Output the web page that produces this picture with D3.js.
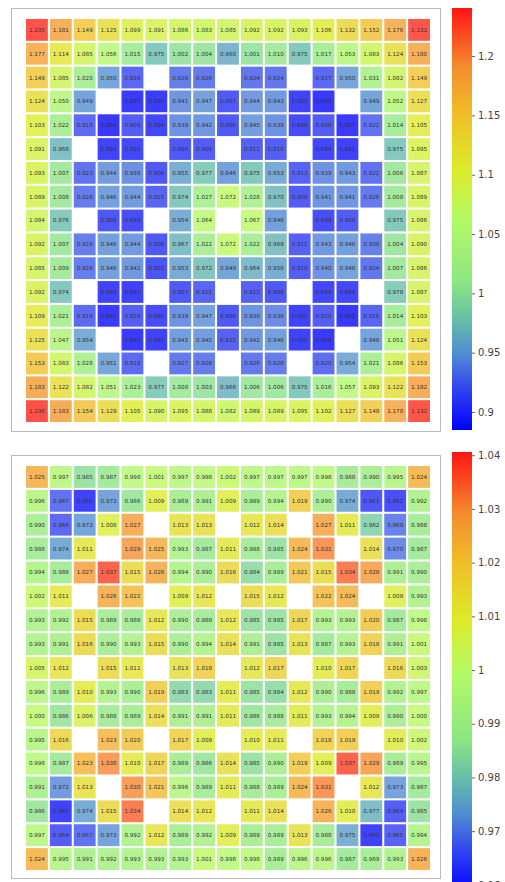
<!DOCTYPE html>
<html>
<head>
<meta charset="utf-8">
<script src="https://cdn.jsdelivr.net/npm/d3@7"></script>
<style>
  body { margin: 0; background: #fff; }
  svg { display: block; font-family: "DejaVu Sans", Verdana, sans-serif; }
</style>
</head>
<body>
<svg id="chart" width="505" height="882"></svg>
<script>
// values, row by row (null = empty cell)
const topValues = [
  [1.235,1.181,1.149,1.125,1.099,1.091,1.086,1.083,1.085,1.092,1.092,1.093,1.106,1.132,1.152,1.176,1.233],
  [1.177,1.114,1.085,1.056,1.015,0.975,1.002,1.004,0.960,1.001,1.010,0.975,1.017,1.053,1.083,1.124,1.180],
  [1.149,1.085,1.020,0.950,0.916,null,0.928,0.926,null,0.924,0.924,null,0.917,0.950,1.031,1.082,1.149],
  [1.124,1.050,0.949,null,0.887,0.888,0.941,0.947,0.907,0.944,0.943,0.893,0.883,null,0.949,1.052,1.127],
  [1.103,1.022,0.918,0.884,0.909,0.894,0.939,0.942,0.906,0.945,0.939,0.898,0.908,0.887,0.922,1.014,1.105],
  [1.091,0.968,null,0.893,0.895,null,0.906,0.909,null,0.911,0.910,null,0.894,0.891,null,0.975,1.095],
  [1.093,1.007,0.923,0.944,0.938,0.906,0.955,0.977,0.946,0.975,0.953,0.913,0.939,0.943,0.922,1.006,1.087],
  [1.089,1.008,0.928,0.946,0.944,0.915,0.974,1.027,1.072,1.028,0.970,0.908,0.941,0.941,0.926,1.008,1.089],
  [1.084,0.976,null,0.905,0.899,null,0.954,1.064,null,1.067,0.946,null,0.899,0.908,null,0.975,1.086],
  [1.092,1.007,0.929,0.946,0.944,0.906,0.967,1.022,1.072,1.022,0.969,0.911,0.943,0.946,0.930,1.004,1.090],
  [1.085,1.009,0.928,0.946,0.942,0.902,0.953,0.972,0.949,0.964,0.956,0.910,0.940,0.948,0.924,1.007,1.086],
  [1.092,0.974,null,0.893,0.891,null,0.907,0.915,null,0.912,0.906,null,0.895,0.895,null,0.978,1.087],
  [1.109,1.021,0.918,0.887,0.910,0.898,0.939,0.947,0.906,0.939,0.936,0.892,0.910,0.885,0.915,1.014,1.103],
  [1.125,1.047,0.954,null,0.887,0.892,0.945,0.945,0.912,0.942,0.946,0.892,0.886,null,0.948,1.051,1.124],
  [1.153,1.083,1.028,0.951,0.918,null,0.927,0.928,null,0.926,0.928,null,0.920,0.954,1.021,1.086,1.153],
  [1.183,1.122,1.082,1.051,1.023,0.977,1.008,1.003,0.966,1.006,1.006,0.975,1.016,1.057,1.093,1.122,1.182],
  [1.236,1.183,1.154,1.129,1.105,1.090,1.095,1.088,1.082,1.089,1.089,1.095,1.102,1.127,1.148,1.178,1.232]
];

const bottomValues = [
  [1.025,0.997,0.985,0.987,0.998,1.001,0.997,0.998,1.002,0.997,0.997,0.997,0.998,0.988,0.990,0.995,1.024],
  [0.996,0.967,0.960,0.973,0.986,1.009,0.989,0.991,1.009,0.989,0.994,1.019,0.990,0.974,0.963,0.962,0.992],
  [0.990,0.966,0.973,1.008,1.027,null,1.013,1.013,null,1.012,1.014,null,1.027,1.011,0.982,0.969,0.988],
  [0.988,0.974,1.011,null,1.029,1.025,0.993,0.987,1.011,0.988,0.985,1.024,1.031,null,1.014,0.970,0.987],
  [0.994,0.988,1.027,1.037,1.015,1.026,0.994,0.990,1.016,0.984,0.989,1.021,1.015,1.034,1.028,0.991,0.990],
  [1.002,1.011,null,1.026,1.022,null,1.009,1.012,null,1.015,1.012,null,1.022,1.024,null,1.008,0.993],
  [0.993,0.992,1.015,0.989,0.988,1.012,0.990,0.988,1.012,0.985,0.985,1.017,0.993,0.993,1.020,0.987,0.998],
  [0.993,0.991,1.016,0.990,0.993,1.015,0.990,0.994,1.014,0.991,0.985,1.013,0.987,0.993,1.018,0.991,1.001],
  [1.005,1.012,null,1.015,1.011,null,1.013,1.018,null,1.012,1.017,null,1.010,1.017,null,1.016,1.003],
  [0.996,0.989,1.010,0.993,0.990,1.019,0.983,0.983,1.011,0.985,0.984,1.012,0.990,0.988,1.019,0.992,0.997],
  [1.000,0.986,1.006,0.988,0.989,1.014,0.991,0.991,1.011,0.986,0.988,1.011,0.993,0.994,1.009,0.990,1.000],
  [0.995,1.016,null,1.023,1.020,null,1.017,1.009,null,1.010,1.011,null,1.018,1.019,null,1.010,1.002],
  [0.998,0.987,1.023,1.030,1.010,1.017,0.989,0.986,1.014,0.985,0.990,1.019,1.009,1.037,1.029,0.989,0.995],
  [0.991,0.972,1.013,null,1.030,1.021,0.996,0.989,1.011,0.988,0.989,1.024,1.031,null,1.012,0.973,0.987],
  [0.986,0.960,0.974,1.015,1.034,null,1.014,1.012,null,1.011,1.014,null,1.026,1.010,0.977,0.964,0.985],
  [0.997,0.964,0.967,0.973,0.992,1.012,0.989,0.992,1.009,0.989,0.989,1.013,0.988,0.975,0.960,0.965,0.994],
  [1.024,0.995,0.991,0.992,0.993,0.993,0.993,1.001,0.998,0.998,0.989,0.996,0.996,0.987,0.989,0.993,1.026]
];

const topTicks = [0.9, 0.95, 1, 1.05, 1.1, 1.15, 1.2];
const bottomTicks = [0.96, 0.97, 0.98, 0.99, 1, 1.01, 1.02, 1.03, 1.04];

// colour stops of the colorbar, bottom -> top (offset, colour)
const stopOffsets = [0, 0.1, 0.18, 0.26, 0.35, 0.5, 0.62, 0.75, 0.86, 1];
const stopColors = ["#0000ff", "#3246f0", "#508cd2", "#64bea8", "#8ce682", "#b4fa64", "#dceb28", "#f0be28", "#f58c2d", "#ff1414"];

const svg = d3.select("#chart");
const defs = svg.append("defs");

function drawPanel(values, ticks, cfg, id) {
  const n = values.length;
  const idx = d3.range(n);
  const flat = [];
  values.forEach((row, r) => row.forEach((v, c) => { if (v !== null) flat.push({ r, c, v }); }));

  const x = d3.scaleBand().domain(idx).range([cfg.left, cfg.right]).paddingInner(0.085);
  const y = d3.scaleBand().domain(idx).range([cfg.top, cfg.bottom]).paddingInner(0.085);

  const color = d3.scaleLinear()
    .domain(stopOffsets.map(t => cfg.dmin + (cfg.dmax - cfg.dmin) * t))
    .range(stopColors)
    .interpolate(d3.interpolateRgb)
    .clamp(true);

  // frame
  svg.append("rect")
    .attr("x", cfg.frame[0]).attr("y", cfg.frame[1])
    .attr("width", cfg.frame[2]).attr("height", cfg.frame[3])
    .attr("fill", "none").attr("stroke", "#bbb").attr("stroke-width", 1);

  const g = svg.append("g");
  g.selectAll("rect.cell")
    .data(flat)
    .join("rect")
    .attr("class", "cell")
    .attr("x", d => x(d.c))
    .attr("y", d => y(d.r))
    .attr("width", x.bandwidth())
    .attr("height", y.bandwidth())
    .attr("fill", d => color(d.v))
    .attr("fill-opacity", 0.78);

  g.selectAll("text.lbl")
    .data(flat)
    .join("text")
    .attr("class", "lbl")
    .attr("x", d => x(d.c) + x.bandwidth() / 2)
    .attr("y", d => y(d.r) + y.bandwidth() / 2)
    .attr("dy", "0.35em")
    .attr("text-anchor", "middle")
    .attr("font-size", 5.6)
    .attr("fill", "#333")
    .text(d => d3.format(".3f")(d.v));

  // colorbar
  const grad = defs.append("linearGradient")
    .attr("id", id).attr("x1", 0).attr("y1", 1).attr("x2", 0).attr("y2", 0);
  stopColors.forEach((c, i) => {
    grad.append("stop").attr("offset", stopOffsets[i]).attr("stop-color", c);
  });
  const cb = d3.scaleLinear().domain([cfg.dmin, cfg.dmax]).range([cfg.cbBottom, cfg.cbTop]);
  svg.append("rect")
    .attr("x", cfg.cbX).attr("y", cfg.cbTop)
    .attr("width", cfg.cbW).attr("height", cfg.cbBottom - cfg.cbTop)
    .attr("fill", `url(#${id})`);

  const axis = svg.append("g")
    .attr("transform", `translate(${cfg.cbX + cfg.cbW},0)`)
    .call(d3.axisRight(cb).tickValues(ticks).tickSize(3).tickFormat(d3.format("")));
  axis.select(".domain").remove();
  axis.selectAll("line").attr("stroke", "#666");
  axis.selectAll("text").attr("fill", "#444").attr("font-size", 10)
    .attr("font-family", "DejaVu Sans, Verdana, sans-serif");
}

drawPanel(topValues, topTicks, {
  left: 26, right: 430, top: 19, bottom: 422,
  frame: [11.5, 8.5, 429, 423],
  dmin: 0.8848, dmax: 1.2405,
  cbX: 452, cbW: 20, cbTop: 8, cbBottom: 430
}, "gradTop");

drawPanel(bottomValues, bottomTicks, {
  left: 26, right: 430, top: 466, bottom: 870,
  frame: [11.5, 455.5, 429, 423],
  dmin: 0.9583, dmax: 1.0406,
  cbX: 452, cbW: 20, cbTop: 452, cbBottom: 894
}, "gradBottom");
</script>
</body>
</html>
